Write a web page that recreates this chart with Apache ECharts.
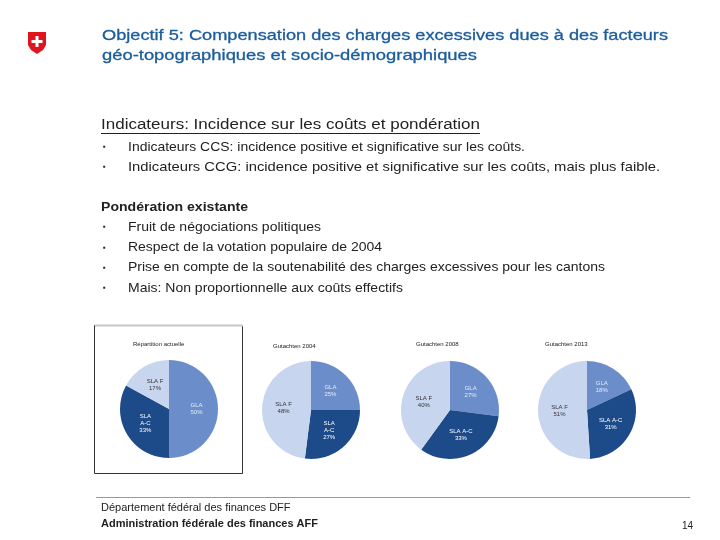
<!DOCTYPE html>
<html><head><meta charset="utf-8">
<script src="https://cdn.jsdelivr.net/npm/echarts@6/dist/echarts.min.js"></script>
<style>html,body{margin:0;padding:0;background:#fff}#c{width:720px;height:540px}</style>
</head><body><div id="c"></div>
<script>
var pieTitles = ['Répartition actuelle', 'Gutachten 2004', 'Gutachten 2008', 'Gutachten 2013'];
var sliceNames = ['GLA', 'SLA A-C', 'SLA F'];
var labelNames = [
  ['GLA', 'SLA\nA-C', 'SLA F'],
  ['GLA', 'SLA\nA-C', 'SLA F'],
  ['GLA', 'SLA A-C', 'SLA F'],
  ['GLA', 'SLA A-C', 'SLA F']
];
var shareGLA = [50, 25, 27, 18];
var shareSLAAC = [33, 27, 33, 31];
var shareSLAF = [17, 48, 40, 51];

var titleLines = ['Objectif 5: Compensation des charges excessives dues à des facteurs', 'géo-topographiques et socio-démographiques'];
var subHeading = 'Indicateurs: Incidence sur les coûts et pondération';
var indicatorBullets = ['Indicateurs CCS: incidence positive et significative sur les coûts.', 'Indicateurs CCG: incidence positive et significative sur les coûts, mais plus faible.'];
var weightHeading = 'Pondération existante';
var weightBullets = ['Fruit de négociations politiques', 'Respect de la votation populaire de 2004', 'Prise en compte de la soutenabilité des charges excessives pour les cantons', 'Mais: Non proportionnelle aux coûts effectifs'];
var footer1 = 'Département fédéral des finances DFF';
var footer2 = 'Administration fédérale des finances AFF';
var pageNo = '14';

var colors = ['#6b8ecb', '#1d4b8a', '#c8d5ee'];
var labelColors = ['#e4ebf7', '#ffffff', '#333333'];
var centers = [[169, 409], [311, 410], [450, 410], [587, 410]];
var FONT = 'Liberation Sans, Arial, sans-serif';

var measureCtx = document.createElement('canvas').getContext('2d');
var chart = echarts.init(document.getElementById('c'), null, {renderer: 'canvas'});
var g = [];
function txt(x, y, s, size, opts) {
  opts = opts || {};
  var font = (opts.weight || 'normal') + ' ' + size + 'px ' + FONT;
  var sx = 1;
  if (opts.right) {
    measureCtx.font = font;
    sx = (opts.right - x) / measureCtx.measureText(s).width;
  }
  var style = {text: s, fill: opts.fill || '#222', font: font,
    textVerticalAlign: 'middle', textAlign: opts.align || 'left'};
  if (opts.stroke) { style.stroke = opts.fill; style.lineWidth = opts.stroke; }
  g.push({type: 'text', x: x, y: y, scaleX: sx, silent: true, style: style});
}
// Swiss shield
g.push({type: 'polygon', shape: {points: [[28, 32], [46, 32], [46, 45], [43, 50], [37, 54], [31, 50], [28, 45]]}, style: {fill: '#e0141e'}});
g.push({type: 'rect', shape: {x: 35.5, y: 36, width: 3, height: 11}, style: {fill: '#fff'}});
g.push({type: 'rect', shape: {x: 31.5, y: 40, width: 11, height: 3}, style: {fill: '#fff'}});

txt(102, 36, titleLines[0], 15, {fill: '#1a5c9c', right: 668, stroke: 0.3});
txt(102, 56, titleLines[1], 15, {fill: '#1a5c9c', right: 477, stroke: 0.3});

txt(101, 125, subHeading, 15.5, {right: 480});
g.push({type: 'line', shape: {x1: 101, y1: 133.5, x2: 480, y2: 133.5}, style: {stroke: '#222', lineWidth: 1}});
var indRight = [525, 660];
indicatorBullets.forEach(function (s, i) {
  txt(103, 147 + i * 20, '▪', 8);
  txt(128, 147 + i * 20, s, 13.5, {right: indRight[i]});
});
txt(101, 207, weightHeading, 13.5, {weight: 'bold', right: 248});
var wRight = [321, 382, 605, 403];
weightBullets.forEach(function (s, i) {
  txt(103, 227 + i * 20.3, '▪', 8);
  txt(128, 227 + i * 20.3, s, 13.5, {right: wRight[i]});
});

// frame around first pie
g.push({type: 'rect', shape: {x: 94.5, y: 325.5, width: 148, height: 148}, style: {fill: 'none', stroke: '#333', lineWidth: 1}});
g.push({type: 'line', shape: {x1: 95, y1: 325.5, x2: 243, y2: 325.5}, style: {stroke: '#c8c8c8', lineWidth: 2}});

var titlePos = [[133, 344], [273, 346], [416, 344], [545, 344]];
pieTitles.forEach(function (t, i) { txt(titlePos[i][0], titlePos[i][1], t, 6); });

g.push({type: 'line', shape: {x1: 96, y1: 497.5, x2: 690, y2: 497.5}, style: {stroke: '#999', lineWidth: 1}});
txt(101, 508, footer1, 11);
txt(101, 524, footer2, 11, {weight: 'bold'});
txt(693, 526, pageNo, 10, {align: 'right'});

var series = pieTitles.map(function (t, i) {
  var vals = [shareGLA[i], shareSLAAC[i], shareSLAF[i]];
  return {
    type: 'pie', center: centers[i], radius: 49, startAngle: 90, clockwise: true,
    animation: false, silent: true,
    label: {show: true, position: 'inside', fontSize: 6, lineHeight: 7, fontFamily: FONT,
      formatter: function (p) { return labelNames[i][p.dataIndex] + '\n' + p.value + '%'; }},
    labelLine: {show: false},
    itemStyle: {borderWidth: 0},
    data: vals.map(function (v, k) {
      return {name: sliceNames[k], value: v, itemStyle: {color: colors[k]}, label: {color: labelColors[k]}};
    })
  };
});

chart.setOption({animation: false, backgroundColor: '#fff', graphic: g, series: series});
</script></body></html>
